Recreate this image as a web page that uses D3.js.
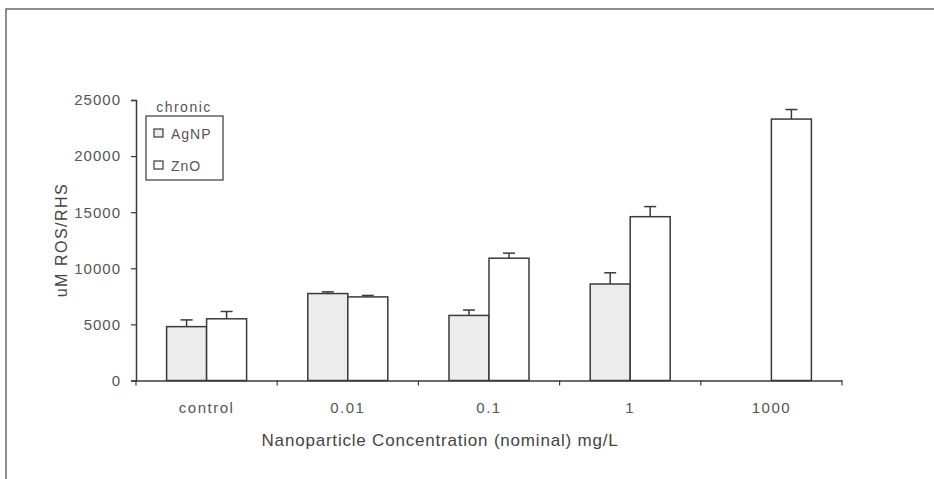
<!DOCTYPE html>
<html>
<head>
<meta charset="utf-8">
<script src="https://cdn.jsdelivr.net/npm/d3@7"></script>
<style>
  body { margin: 0; background: #fff; }
  svg { display: block; font-family: Arial, "Liberation Sans", sans-serif; }
</style>
</head>
<body>
<svg width="934" height="479"></svg>
<script>
var categories = ["control", "0.01", "0.1", "1", "1000"];
var series = ["AgNP", "ZnO"];
var agnp = [4800, 7750, 5800, 8600, null];
var agnpErr = [600, 150, 480, 1000, null];
var zno = [5500, 7450, 10900, 14600, 23300];
var znoErr = [650, 130, 450, 900, 850];
var yTicks = [0, 5000, 10000, 15000, 20000, 25000];

var svg = d3.select("svg");
var ink = "#3a3a3a";
var fills = { AgNP: "#ececec", ZnO: "#ffffff" };

// outer frame (top and left only)
svg.append("path")
    .attr("d", "M6,479 V9 H934")
    .attr("fill", "none")
    .attr("stroke", "#6a6a6a")
    .attr("stroke-width", 1.5);

var x0 = d3.scaleBand().domain(categories).range([136, 842]).padding(0);
var x1 = d3.scaleBand().domain(series).range([0, 80]);
var y = d3.scaleLinear().domain([0, 25000]).range([380.5, 100]);

var rows = categories.map(function(c, i) {
    return {
        cat: c,
        vals: [
            { s: "AgNP", v: agnp[i], e: agnpErr[i] },
            { s: "ZnO", v: zno[i], e: znoErr[i] }
        ].filter(function(d) { return d.v != null; })
    };
});

var off = (x0.bandwidth() - 80) / 2;

var groups = svg.selectAll("g.grp")
    .data(rows)
    .enter()
    .append("g")
    .attr("class", "grp")
    .attr("transform", function(d) { return "translate(" + (x0(d.cat) + off) + ",0)"; });

var bars = groups.selectAll("g.bar")
    .data(function(d) { return d.vals; })
    .enter()
    .append("g")
    .attr("class", "bar");

// error bars (drawn first, bars sit on top)
bars.append("line")
    .attr("x1", function(d) { return x1(d.s) + x1.bandwidth() / 2; })
    .attr("x2", function(d) { return x1(d.s) + x1.bandwidth() / 2; })
    .attr("y1", function(d) { return y(d.v); })
    .attr("y2", function(d) { return y(d.v + d.e); })
    .attr("stroke", ink)
    .attr("stroke-width", 1.5);

bars.append("line")
    .attr("x1", function(d) { return x1(d.s) + x1.bandwidth() / 2 - 6; })
    .attr("x2", function(d) { return x1(d.s) + x1.bandwidth() / 2 + 6; })
    .attr("y1", function(d) { return y(d.v + d.e); })
    .attr("y2", function(d) { return y(d.v + d.e); })
    .attr("stroke", ink)
    .attr("stroke-width", 1.5);

bars.append("rect")
    .attr("x", function(d) { return x1(d.s); })
    .attr("width", x1.bandwidth())
    .attr("y", function(d) { return y(d.v); })
    .attr("height", function(d) { return y(0) - y(d.v); })
    .attr("fill", function(d) { return fills[d.s]; })
    .attr("stroke", ink)
    .attr("stroke-width", 1.5);

// y axis
var yAxis = svg.append("g")
    .attr("transform", "translate(136,0)")
    .call(d3.axisLeft(y).tickValues(yTicks).tickSize(5).tickPadding(10).tickFormat(d3.format("d")));
yAxis.select(".domain").attr("stroke", ink).attr("stroke-width", 1.5);
yAxis.selectAll(".tick line").attr("stroke", ink).attr("stroke-width", 1.2);
yAxis.selectAll("text")
    .attr("font-size", 15)
    .attr("letter-spacing", 1)
    .attr("fill", "#555");

// x axis: labels from the band scale, ticks at band edges
var xAxis = svg.append("g")
    .attr("transform", "translate(0," + y(0) + ")")
    .call(d3.axisBottom(x0).tickSize(0).tickPadding(22));
xAxis.select(".domain").attr("stroke", ink).attr("stroke-width", 1.5);
xAxis.selectAll("text")
    .attr("font-size", 15)
    .attr("letter-spacing", 1.5)
    .attr("fill", "#555");

var edges = categories.map(function(c) { return x0(c); }).concat([x0.range()[1]]);
svg.append("g").selectAll("line")
    .data(edges)
    .enter()
    .append("line")
    .attr("x1", function(d) { return d; })
    .attr("x2", function(d) { return d; })
    .attr("y1", y(0))
    .attr("y2", y(0) + 5)
    .attr("stroke", ink)
    .attr("stroke-width", 1.2);

// axis titles
svg.append("text")
    .attr("x", 440)
    .attr("y", 446)
    .attr("text-anchor", "middle")
    .attr("font-size", 17)
    .attr("letter-spacing", 0.8)
    .attr("fill", "#444")
    .text("Nanoparticle Concentration (nominal) mg/L");

svg.append("text")
    .attr("transform", "translate(67,240) rotate(-90)")
    .attr("text-anchor", "middle")
    .attr("font-size", 16)
    .attr("letter-spacing", 1.5)
    .attr("fill", "#444")
    .text("uM ROS/RHS");

// legend
var lg = svg.append("g");
lg.append("text")
    .attr("x", 184)
    .attr("y", 112)
    .attr("text-anchor", "middle")
    .attr("font-size", 14)
    .attr("letter-spacing", 1.5)
    .attr("fill", "#555")
    .text("chronic");
lg.append("rect")
    .attr("x", 146)
    .attr("y", 116)
    .attr("width", 77)
    .attr("height", 64)
    .attr("fill", "#fff")
    .attr("stroke", ink)
    .attr("stroke-width", 1.2);

var items = lg.selectAll("g.item")
    .data(series)
    .enter()
    .append("g")
    .attr("class", "item")
    .attr("transform", function(d, i) { return "translate(154," + (134 + i * 32) + ")"; });
items.append("rect")
    .attr("x", 0)
    .attr("y", -5)
    .attr("width", 9)
    .attr("height", 8)
    .attr("fill", function(d) { return fills[d]; })
    .attr("stroke", ink)
    .attr("stroke-width", 1.2);
items.append("text")
    .attr("x", 17)
    .attr("y", 5)
    .attr("font-size", 14)
    .attr("letter-spacing", 1)
    .attr("fill", "#555")
    .text(function(d) { return d; });
</script>
</body>
</html>
